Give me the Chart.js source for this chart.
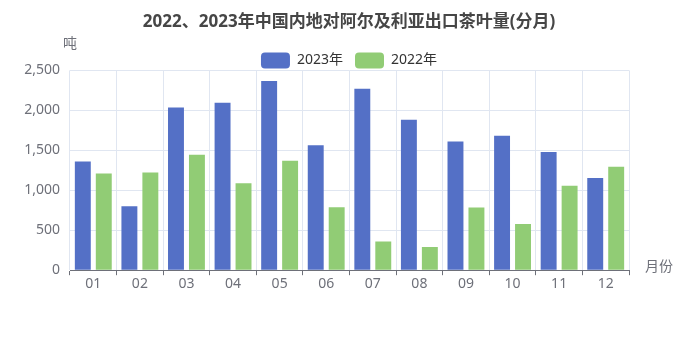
<!DOCTYPE html>
<html>
<head>
<meta charset="utf-8">
<script src="https://cdn.jsdelivr.net/npm/chart.js@4"></script>
<style>
  html, body { margin: 0; padding: 0; background: #fff; }
  #wrap { width: 698px; height: 349px; }
</style>
</head>
<body>
<div id="wrap"><canvas id="teaChart" width="698" height="349"></canvas></div>
<script>
const months = ['01', '02', '03', '04', '05', '06', '07', '08', '09', '10', '11', '12'];
const tons2023 = [1360, 800, 2035, 2095, 2368, 1563, 2271, 1884, 1610, 1681, 1479, 1155];
const tons2022 = [1210, 1222, 1445, 1087, 1370, 788, 358, 291, 784, 577, 1058, 1294];
const yTicks = [0, 500, 1000, 1500, 2000, 2500];

const FONT = '"Noto Sans", "Noto Sans CJK SC", sans-serif';
const AXIS_COLOR = '#6E7079';
const GRID_COLOR = '#E0E6F1';

// title and legend span the whole canvas; legend sits just above the plot
const headerLayout = {
  id: 'headerLayout',
  afterLayout(chart) {
    for (const box of [chart.titleBlock, chart.legend]) {
      box.left = 0;
      box.right = chart.width;
      box.width = chart.width;
    }
    chart.legend.top += 8;
    chart.legend.bottom += 8;
  }
};

// axis names: unit above the y axis, category name right of the x axis
const axisNames = {
  id: 'axisNames',
  afterDraw(chart) {
    const { ctx, chartArea } = chart;
    ctx.save();
    ctx.font = '14px ' + FONT;
    ctx.fillStyle = AXIS_COLOR;
    ctx.textBaseline = 'middle';
    ctx.textAlign = 'center';
    ctx.fillText('吨', chartArea.left, 44);
    ctx.textAlign = 'left';
    ctx.fillText('月份', chartArea.right + 16, chartArea.bottom - 3);
    ctx.restore();
  }
};

new Chart(document.getElementById('teaChart'), {
  type: 'bar',
  data: {
    labels: months,
    datasets: [
      { label: '2023年', data: tons2023, backgroundColor: '#5470c6' },
      { label: '2022年', data: tons2022, backgroundColor: '#91cc75' }
    ]
  },
  options: {
    responsive: false,
    animation: false,
    categoryPercentage: 0.9,
    barPercentage: 0.76,
    layout: { padding: { top: 0, right: 69, bottom: 57, left: 0 } },
    plugins: {
      title: {
        display: true,
        text: '2022、2023年中国内地对阿尔及利亚出口茶叶量(分月)',
        color: '#464646',
        font: { family: FONT, size: 17, weight: 'bold' },
        padding: { top: 12, bottom: 0 }
      },
      legend: {
        display: true,
        labels: {
          color: '#333',
          font: { family: FONT, size: 14 },
          boxWidth: 29,
          boxHeight: 16,
          useBorderRadius: true,
          borderRadius: 4,
          padding: 12
        }
      },
      tooltip: { enabled: false }
    },
    scales: {
      x: {
        offset: true,
        grid: { offset: true, color: GRID_COLOR, tickColor: AXIS_COLOR, tickLength: 5 },
        border: { color: AXIS_COLOR },
        ticks: { color: AXIS_COLOR, font: { family: FONT, size: 14 }, padding: 0 }
      },
      y: {
        min: yTicks[0],
        max: yTicks[yTicks.length - 1],
        afterBuildTicks(scale) { scale.ticks = yTicks.map(v => ({ value: v })); },
        afterFit(scale) { scale.width = 70; },
        grid: { color: GRID_COLOR, drawTicks: false },
        border: { display: false },
        ticks: { color: AXIS_COLOR, font: { family: FONT, size: 14 }, padding: 10 }
      }
    }
  },
  plugins: [headerLayout, axisNames]
});
</script>
</body>
</html>
